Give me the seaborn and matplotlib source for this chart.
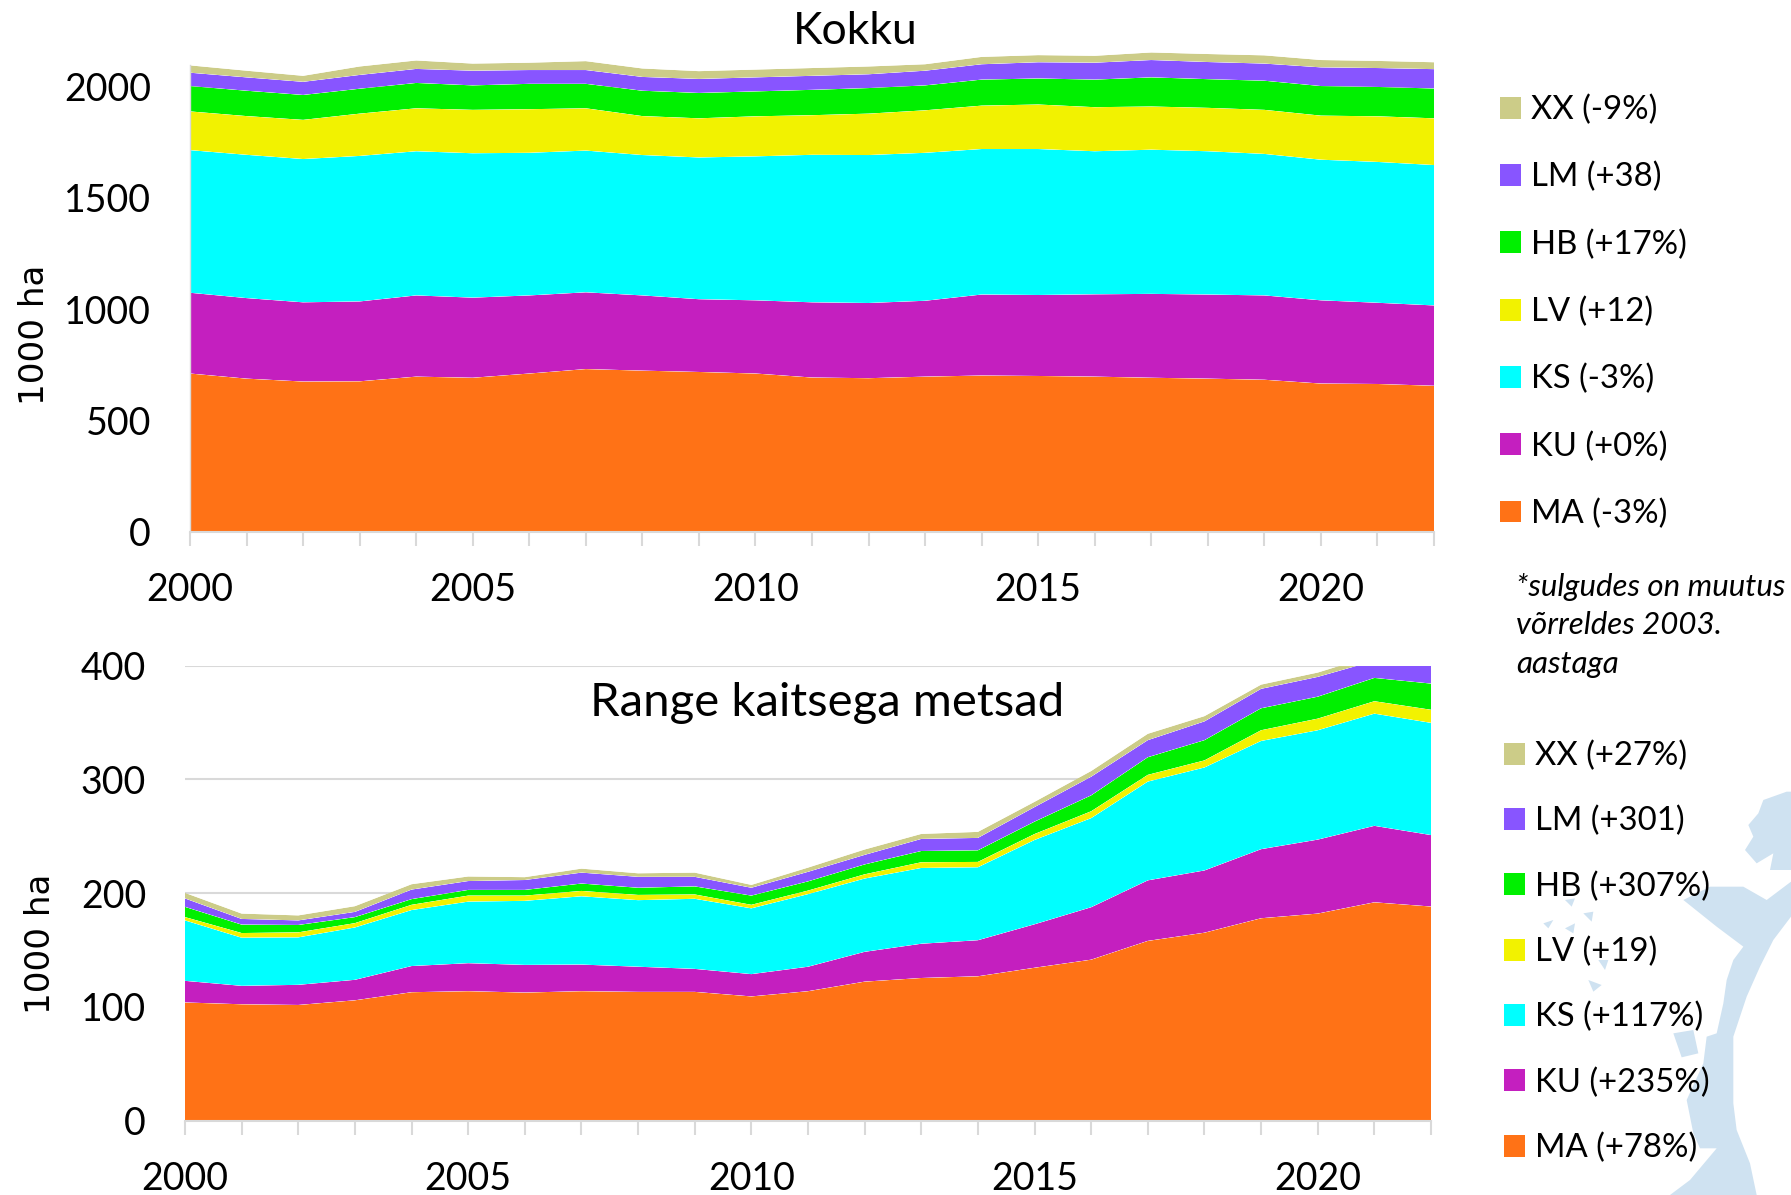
import numpy as np
import pandas as pd
import seaborn as sns
import seaborn.objects as so
import matplotlib
matplotlib.use("Agg")
import matplotlib.pyplot as plt
from matplotlib.patches import Patch, Polygon

years = list(range(2000, 2023))
series = ["MA", "KU", "KS", "LV", "HB", "LM", "XX"]
palette = ["#FF7216", "#C41FBF", "#00FFFF", "#F2F200", "#00F000", "#8855FF", "#CCCC88"]

# Kokku (1000 ha)
top_MA = [710,687,674,675,696,691,710,730,723,717,710,692,689,696,701,699,696,691,687,682,665,663,655]
top_KU = [363,362,356,359,365,360,351,345,338,327,329,338,338,341,364,364,370,377,378,379,374,365,361]
top_KS = [641,644,644,654,648,649,641,637,631,637,647,663,665,665,654,656,643,648,644,636,632,633,631]
top_LV = [174,174,176,190,193,195,196,190,175,176,180,178,186,191,195,200,198,194,195,198,198,205,210]
top_HB = [114,114,112,112,114,110,114,110,114,114,112,114,115,112,117,117,124,131,129,131,133,132,134]
top_LM = [60,60,59,62,63,66,62,62,62,63,63,63,62,66,69,73,76,78,77,77,84,85,87]
top_XX = [33,30,27,38,38,32,33,40,38,35,35,35,35,29,33,32,31,34,36,37,33,32,31]
top_labels = ["XX (-9%)", "LM (+38)", "HB (+17%)", "LV (+12)", "KS (-3%)", "KU (+0%)", "MA (-3%)"]

# Range kaitsega metsad (1000 ha)
low_MA = [103.9,102.3,101.7,105.8,112.9,113.8,112.6,113.8,113.2,113.2,109.2,113.8,122.2,125.4,126.9,134.4,141.5,158.0,165.2,177.9,182.0,191.9,188.2]
low_KU = [19.0,16.2,17.7,18.0,23.0,24.6,24.3,23.4,22.1,20.2,19.6,21.5,26.2,30.1,31.7,38.2,46.1,53.2,54.7,60.7,65.0,67.2,62.8]
low_KS = [53.1,42.3,41.7,46.0,49.2,54.1,56.3,60.0,58.5,61.6,57.8,63.8,64.4,66.6,64.1,74.1,78.3,86.8,90.5,95.1,96.1,98.6,98.6]
low_LV = [2.9,4.1,4.4,3.8,4.6,5.3,4.6,4.7,4.6,3.8,3.1,3.1,3.7,5.0,4.7,5.2,6.0,5.9,6.2,9.4,10.2,10.9,11.5]
low_HB = [9.0,7.4,6.5,5.3,5.0,5.0,5.0,6.5,6.3,7.1,8.1,8.1,8.7,9.9,10.2,10.9,14.0,15.5,17.8,19.3,19.3,20.5,23.0]
low_LM = [7.4,5.0,4.0,4.6,8.4,7.8,8.7,9.6,9.6,8.4,6.9,8.4,8.4,10.6,10.9,12.8,16.4,15.0,16.5,17.1,17.4,15.0,17.0]
low_XX = [4.9,4.7,4.4,5.0,4.7,4.0,2.5,3.5,3.1,3.7,2.5,3.7,4.7,4.4,5.3,4.6,5.0,5.6,4.6,3.7,3.8,5.0,5.0]
low_labels = ["XX (+27%)", "LM (+301)", "HB (+307%)", "LV (+19)", "KS (+117%)", "KU (+235%)", "MA (+78%)"]

note_lines = ["*sulgudes on muutus", "võrreldes 2003.", "aastaga"]

W, H = 1791, 1195
FONT = "Lato"
GREY = "#D9D9D9"
sns.set_theme(style="white")
plt.rcParams["font.family"] = [FONT, "DejaVu Sans"]

fig = plt.figure(figsize=(W / 100, H / 100), dpi=100, facecolor="white")


def axes_px(left, top, right, bottom):
    return fig.add_axes([left / W, 1 - bottom / H, (right - left) / W, (bottom - top) / H])


# pale map watermark behind the lower right corner (decoration only)
bg = fig.add_axes([0, 0, 1, 1], zorder=-5)
bg.set_xlim(0, W)
bg.set_ylim(H, 0)
bg.axis("off")
MAP = "#CFE2F1"
shapes = [
    [(783,65),(770,65),(700,90),(685,130),(655,165),(670,200),(645,240),(680,280),(730,250),(720,300),(783,300)],
    [(783,335),(710,390),(640,350),(540,350),(460,390),(560,470),(640,530),(610,570),(590,630),(580,700),
     (560,790),(530,800),(520,880),(470,990),(490,1090),(510,1135),(560,1135),(480,1230),(420,1275),(680,1275),
     (660,1180),(620,1080),(610,1000),(610,800),(650,680),(690,590),(730,510),(783,440)],
    [(430,790),(490,780),(505,850),(455,862)],
    [(105,390),(135,385),(125,410)],
    [(160,430),(190,425),(185,455)],
    [(40,460),(70,450),(55,475)],
    [(105,475),(135,460),(130,490)],
    [(205,570),(235,570),(225,600)],
    [(175,630),(215,645),(190,665)],
]
for s in shapes:
    bg.add_patch(Polygon([(1530 + x / 3, 770 + y / 3) for x, y in s], closed=True, fc=MAP, ec="none"))


def draw(ax, values, ymax, yticks, grid):
    df = pd.DataFrame({
        "year": years * len(series),
        "area": np.concatenate(values),
        "klass": np.repeat(series, len(years)),
    })
    (so.Plot(df, x="year", y="area", color="klass")
     .add(so.Area(alpha=1, edgewidth=0), so.Stack(), legend=False)
     .scale(color=so.Nominal(dict(zip(series, palette)), order=series))
     .limit(x=(2000, 2022), y=(0, ymax))
     .on(ax)
     .plot())
    ax.set_facecolor("none")
    ax.set_xlabel("")
    ax.set_ylabel("")
    for side in ("top", "right"):
        ax.spines[side].set_visible(False)
    ax.spines["bottom"].set_color(GREY)
    ax.spines["bottom"].set_linewidth(1.5)
    ax.spines["left"].set_color(GREY)
    ax.spines["left"].set_linewidth(1)
    ax.set_xticks(years, minor=True)
    ax.set_xticks(years[::5])
    ax.set_xticklabels([str(y) for y in years[::5]], fontsize=27, fontfamily=FONT, color="black")
    ax.set_yticks(yticks)
    ax.set_yticklabels([str(v) for v in yticks], fontsize=27, fontfamily=FONT, color="black")
    ax.tick_params(axis="x", which="both", length=10, width=1.5, color=GREY, direction="out",
                   bottom=True, top=False)
    ax.tick_params(axis="x", which="major", pad=19)
    ax.tick_params(axis="y", which="both", length=0, pad=28, left=True)
    ax.grid(grid, axis="y", color=GREY, linewidth=1.5, zorder=0)
    ax.grid(False, axis="x", which="both")
    ax.set_axisbelow(True)


ax1 = axes_px(190, 42, 1434, 531.5)
draw(ax1, [top_MA, top_KU, top_KS, top_LV, top_HB, top_LM, top_XX], 2200, [0, 500, 1000, 1500, 2000], False)
ax1.spines["left"].set_bounds(0, sum(c[0] for c in [top_MA, top_KU, top_KS, top_LV, top_HB, top_LM, top_XX]))
ax2 = axes_px(185, 665.5, 1431, 1120.7)
draw(ax2, [low_MA, low_KU, low_KS, low_LV, low_HB, low_LM, low_XX], 400, [0, 100, 200, 300, 400], True)
ax2.spines["left"].set_visible(False)

fig.text(855 / W, 1 - 31 / H, "Kokku", fontsize=32, fontfamily=FONT, ha="center", va="center", color="black")
fig.text(827 / W, 1 - 703 / H, "Range kaitsega metsad", fontsize=34, fontfamily=FONT, ha="center", va="center", color="black")
fig.text(34 / W, 1 - 335 / H, "1000 ha", fontsize=24.6, fontfamily="DejaVu Sans", rotation=90, ha="center", va="center", color="black")
fig.text(40 / W, 1 - 944 / H, "1000 ha", fontsize=24.6, fontfamily="DejaVu Sans", rotation=90, ha="center", va="center", color="black")


def legend(labels, x, yc, spacing):
    handles = [Patch(fc=palette[len(series) - 1 - i], ec="none", label=lab) for i, lab in enumerate(labels)]
    leg = fig.legend(handles=handles, loc="center left", bbox_to_anchor=(x / W, 1 - yc / H),
                     frameon=False, fontsize=23.7, borderpad=0, borderaxespad=0,
                     handlelength=0.64, handleheight=0.64, handletextpad=0.3,
                     labelspacing=spacing)
    for t in leg.get_texts():
        t.set_color("black")
    return leg


legend(top_labels, 1500, 312, 1.12)
legend(low_labels, 1504, 952, 1.06)

for line, y in zip(note_lines, [587, 625, 664]):
    fig.text(1516 / W, 1 - y / H, line, fontsize=22.5, style="italic", fontfamily=FONT, ha="left", va="center", color="black")

fig.savefig("out.png", dpi=100, facecolor="white")
